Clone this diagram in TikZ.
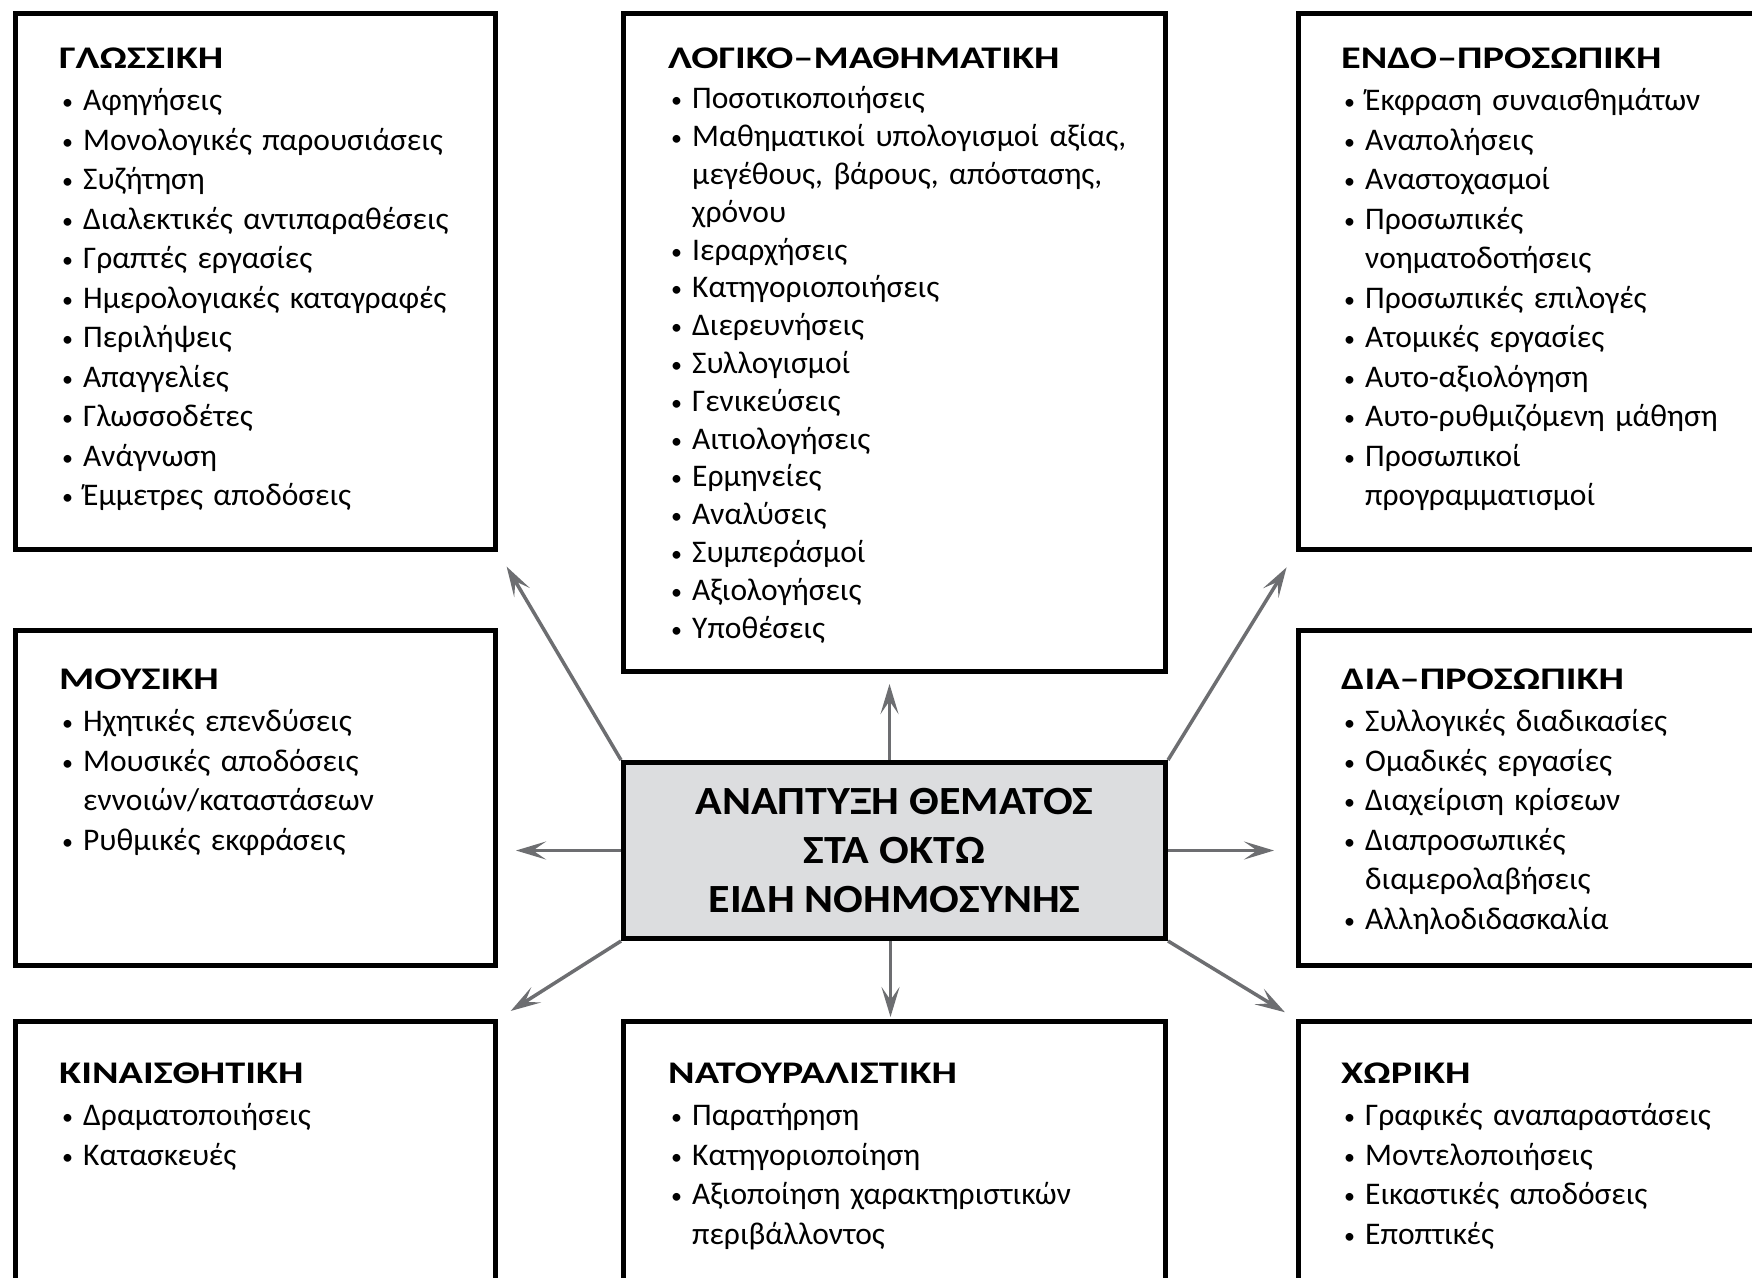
\documentclass[tikz,border=0pt]{standalone}
\usepackage{graphicx}
\usepackage{fontspec}
\setmainfont{Carlito}
\usetikzlibrary{arrows.meta}
\definecolor{arrowgray}{HTML}{6D6E71}
\definecolor{corefill}{HTML}{DCDDDF}
% bulleted entry; continuation lines (\newline) hang under the text
\newcommand\itm[1]{\par\hangindent=24pt\hangafter=1\noindent\hspace*{3pt}\makebox[21pt][l]{\raisebox{1pt}{\fontsize{22}{22}\selectfont\textbullet}}#1\par}
% box heading, set wide
\newcommand\ttl[1]{\scalebox{1.28}[1]{\textbf{#1}}\par\vspace{3pt}}
% line of the central heading
\newcommand\ctl[1]{\scalebox{1.1}[1]{#1}}
\begin{document}
\begin{tikzpicture}[x=1pt,y=-1pt,
  box/.style={draw=black,line width=5pt,fill=white,inner sep=0pt,anchor=north west},
  corebox/.style={draw=black,line width=5pt,fill=corefill,inner sep=0pt,anchor=north west,
    minimum width=542pt,minimum height=176pt},
  txt/.style={anchor=base west,inner sep=0pt,text width=600pt,align=left,
    font=\fontsize{31.5}{39.5}\selectfont},
  arr/.style={draw=arrowgray,line width=3.5pt,-{Stealth[length=30pt,width=18pt,inset=13pt]}}
]
\useasboundingbox (0,0) rectangle (1752,1277);
\fill[white] (0,0) rectangle (1752,1277);
\clip (0,0) rectangle (1752,1277);

% outer boxes
\node[box,minimum width=480pt,minimum height=536pt] (gloss) at (13,11) {};
\node[box,minimum width=542pt,minimum height=658pt] (logic) at (621,11) {};
\node[box,minimum width=500pt,minimum height=536pt] (endo)  at (1296,11) {};
\node[box,minimum width=480pt,minimum height=335pt] (music) at (13,628) {};
\node[box,minimum width=500pt,minimum height=335pt] (dia)   at (1296,628) {};
\node[box,minimum width=480pt,minimum height=400pt] (kin)   at (13,1019) {};
\node[box,minimum width=542pt,minimum height=400pt] (nat)   at (621,1019) {};
\node[box,minimum width=500pt,minimum height=400pt] (chor)  at (1296,1019) {};

% central box
\node[corebox] (core) at (621,760) {};
\node[align=center,inner sep=0pt,font=\fontsize{40}{49}\selectfont\bfseries] (coretext)
  at (core.center) {\ctl{ΑΝΑΠΤΥΞΗ ΘΕΜΑΤΟΣ}\\\ctl{ΣΤΑ ΟΚΤΩ}\\\ctl{ΕΙΔΗ ΝΟΗΜΟΣΥΝΗΣ}};

% connectors (shifts are in page points: positive yshift is upwards)
\draw[arr] ([xshift=-5pt]core.north) -- ([xshift=-5pt,yshift=-10pt]core.north |- logic.south);
\draw[arr] ([xshift=-4pt]core.south) -- ([xshift=-4pt,yshift=2pt]core.south |- nat.north);
\draw[arr] (core.west) -- ([xshift=18pt]core.west -| music.east);
\draw[arr] (core.east) -- ([xshift=-22pt]core.east -| dia.west);
\draw[arr,shorten >=17pt] (core.north west) -- (gloss.south east);
\draw[arr,shorten >=18pt] (core.north east) -- (endo.south west);
\draw[arr,shorten >=15pt] (core.south west) -- (kin.north east);
\draw[arr,shorten >=13pt] (core.south east) -- (chor.north west);

% box contents
\node[txt] (glosstext) at (59,68) {\ttl{ΓΛΩΣΣΙΚΗ}
  \itm{Αφηγήσεις}
  \itm{Μονολογικές παρουσιάσεις}
  \itm{Συζήτηση}
  \itm{Διαλεκτικές αντιπαραθέσεις}
  \itm{Γραπτές εργασίες}
  \itm{Ημερολογιακές καταγραφές}
  \itm{Περιλήψεις}
  \itm{Απαγγελίες}
  \itm{Γλωσσοδέτες}
  \itm{Ανάγνωση}
  \itm{Έμμετρες αποδόσεις}};

\node[txt,font=\fontsize{31.5}{37.8}\selectfont] (logictext) at (668,68) {\ttl{ΛΟΓΙΚΟ–ΜΑΘΗΜΑΤΙΚΗ}
  \itm{Ποσοτικοποιήσεις}
  \itm{Μαθηματικοί υπολογισμοί αξίας,\newline μεγέθους, βάρους, απόστασης,\newline χρόνου}
  \itm{Ιεραρχήσεις}
  \itm{Κατηγοριοποιήσεις}
  \itm{Διερευνήσεις}
  \itm{Συλλογισμοί}
  \itm{Γενικεύσεις}
  \itm{Αιτιολογήσεις}
  \itm{Ερμηνείες}
  \itm{Αναλύσεις}
  \itm{Συμπεράσμοί}
  \itm{Αξιολογήσεις}
  \itm{Υποθέσεις}};

\node[txt] (endotext) at (1341,68) {\ttl{ΕΝΔΟ–ΠΡΟΣΩΠΙΚΗ}
  \itm{Έκφραση συναισθημάτων}
  \itm{Αναπολήσεις}
  \itm{Αναστοχασμοί}
  \itm{Προσωπικές\newline νοηματοδοτήσεις}
  \itm{Προσωπικές επιλογές}
  \itm{Ατομικές εργασίες}
  \itm{Αυτο-αξιολόγηση}
  \itm{Αυτο-ρυθμιζόμενη μάθηση}
  \itm{Προσωπικοί\newline προγραμματισμοί}};

\node[txt] (musictext) at (59,689) {\ttl{ΜΟΥΣΙΚΗ}
  \itm{Ηχητικές επενδύσεις}
  \itm{Μουσικές αποδόσεις\newline εννοιών/καταστάσεων}
  \itm{Ρυθμικές εκφράσεις}};

\node[txt] (diatext) at (1341,689) {\ttl{ΔΙΑ–ΠΡΟΣΩΠΙΚΗ}
  \itm{Συλλογικές διαδικασίες}
  \itm{Ομαδικές εργασίες}
  \itm{Διαχείριση κρίσεων}
  \itm{Διαπροσωπικές\newline διαμερολαβήσεις}
  \itm{Αλληλοδιδασκαλία}};

\node[txt] (kintext) at (59,1083) {\ttl{ΚΙΝΑΙΣΘΗΤΙΚΗ}
  \itm{Δραματοποιήσεις}
  \itm{Κατασκευές}};

\node[txt] (nattext) at (668,1083) {\ttl{ΝΑΤΟΥΡΑΛΙΣΤΙΚΗ}
  \itm{Παρατήρηση}
  \itm{Κατηγοριοποίηση}
  \itm{Αξιοποίηση χαρακτηριστικών\newline περιβάλλοντος}};

\node[txt] (chortext) at (1341,1083) {\ttl{ΧΩΡΙΚΗ}
  \itm{Γραφικές αναπαραστάσεις}
  \itm{Μοντελοποιήσεις}
  \itm{Εικαστικές αποδόσεις}
  \itm{Εποπτικές}};
\end{tikzpicture}
\end{document}
